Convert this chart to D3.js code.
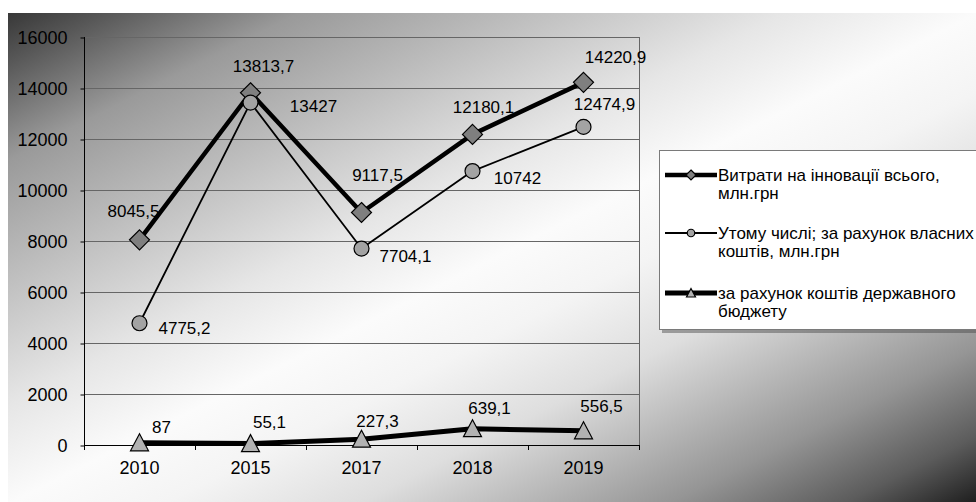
<!DOCTYPE html>
<meta charset="utf-8">
<head>
  <script src="https://d3js.org/d3.v7.min.js"></script>
  <style>
    body { margin: 0; background: #fff; }
    svg { display: block; font-family: "Liberation Sans", Arial, sans-serif; }
  </style>
</head>
<body>
<svg width="976" height="502"></svg>
<script>
// data
var years = ["2010", "2015", "2017", "2018", "2019"];
var totalSpend = [8045.5, 13813.7, 9117.5, 12180.1, 14220.9];
var ownFunds = [4775.2, 13427, 7704.1, 10742, 12474.9];
var stateBudget = [87, 55.1, 227.3, 639.1, 556.5];
var yTicks = [0, 2000, 4000, 6000, 8000, 10000, 12000, 14000, 16000];
var seriesNames = [
  ["Витрати на інновації всього,", "млн.грн"],
  ["Утому числі; за рахунок власних", "коштів, млн.грн"],
  ["за рахунок коштів державного", "бюджету"]
];

// label nudges (layout only)
var labelNudge = [
  [[-6, -29], [13, -27], [16, -38], [11, -28], [32, -25]],
  [[45, 5], [63, 3], [44, 7], [45, 7], [21, -23]],
  [[22, -16], [19, -22], [16, -18], [17, -21], [18, -25]]
];

var svg = d3.select("svg");
var defs = svg.append("defs");
var grad = defs.append("linearGradient").attr("id", "bg")
  .attr("x1", 0).attr("y1", 0).attr("x2", 1).attr("y2", 1);
[[0, "#383838"], [0.05, "#575757"], [0.15, "#9a9a9a"], [0.25, "#b8b8b8"],
 [0.4, "#e6e6e6"], [0.5, "#fbfbfb"], [0.58, "#f4f4f4"], [0.68, "#dedede"],
 [0.84, "#959595"], [0.93, "#5c5c5c"], [1, "#1c1c1c"]].forEach(function(s) {
  grad.append("stop").attr("offset", s[0]).attr("stop-color", s[1]);
});

svg.append("rect").attr("x", 8).attr("y", 13).attr("width", 970).attr("height", 491)
  .attr("fill", "url(#bg)");

var margin = {left: 84, right: 639, top: 37, bottom: 445};
var x = d3.scaleBand().domain(years).range([margin.left, margin.right]).padding(0);
var y = d3.scaleLinear().domain([0, 16000]).range([margin.bottom, margin.top]);
var cx = function(d, i) { return x(years[i]) + x.bandwidth() / 2; };

// gridlines
svg.append("g").selectAll("line").data(yTicks.slice(1)).enter().append("line")
  .attr("x1", margin.left).attr("x2", margin.right)
  .attr("y1", function(d) { return y(d) + 0.5; }).attr("y2", function(d) { return y(d) + 0.5; })
  .attr("stroke", "#666").attr("stroke-width", 1);
svg.append("line").attr("x1", margin.right + 0.5).attr("x2", margin.right + 0.5)
  .attr("y1", margin.top).attr("y2", margin.bottom).attr("stroke", "#666");

// axes
var yAxis = svg.append("g").attr("transform", "translate(" + (margin.left + 0.5) + ",0.5)")
  .call(d3.axisLeft(y).tickValues(yTicks).tickSize(4).tickPadding(13).tickFormat(d3.format("d")));
var xAxis = svg.append("g").attr("transform", "translate(0," + (margin.bottom + 0.5) + ")")
  .call(d3.axisBottom(x).tickSize(0).tickPadding(16));
svg.append("g").selectAll("line").data(years.concat(["end"])).enter().append("line")
  .attr("x1", function(d, i) { return Math.round(margin.left + i * x.bandwidth()) + 0.5; })
  .attr("x2", function(d, i) { return Math.round(margin.left + i * x.bandwidth()) + 0.5; })
  .attr("y1", margin.bottom).attr("y2", margin.bottom + 5).attr("stroke", "#000");
[yAxis, xAxis].forEach(function(a) {
  a.select(".domain").attr("stroke", "#000");
  a.selectAll(".tick line").attr("stroke", "#000");
  a.selectAll("text").attr("font-size", 18).attr("fill", "#000")
    .attr("font-family", "'Liberation Sans', Arial, sans-serif");
});
yAxis.select(".domain").attr("d", "M0," + (margin.top - 0.5) + "V" + (margin.bottom - 0.5));
xAxis.select(".domain").attr("d", "M" + margin.left + ",0H" + margin.right);

// series
var series = [
  {values: totalSpend, width: 4.5, marker: "diamond", fill: "#7f7f7f"},
  {values: ownFunds, width: 1.8, marker: "circle", fill: "#a3a3a3"},
  {values: stateBudget, width: 5, marker: "triangle", fill: "#b2b2b2"}
];
var fmt = function(v) { return String(v).replace(".", ","); };

function drawMarker(g, type, fill) {
  if (type === "diamond") {
    g.append("path").attr("d", "M0,-10L10,0L0,10L-10,0Z");
  } else if (type === "circle") {
    g.append("circle").attr("r", 7.5);
  } else {
    g.append("path").attr("d", "M0,-9L9,8L-9,8Z");
  }
  g.selectAll("*").attr("fill", fill).attr("stroke", "#000").attr("stroke-width", 1.2);
}

var line = d3.line().x(cx).y(function(d) { return y(d); });

series.forEach(function(s) {
  svg.append("path").datum(s.values).attr("d", line)
    .attr("fill", "none").attr("stroke", "#000").attr("stroke-width", s.width)
    .attr("stroke-linejoin", "round");
});
series.forEach(function(s) {
  s.values.forEach(function(v, i) {
    var g = svg.append("g").attr("transform", "translate(" + cx(v, i) + "," + y(v) + ")");
    drawMarker(g, s.marker, s.fill);
  });
});
series.forEach(function(s, k) {
  svg.append("g").selectAll("text").data(s.values).enter().append("text")
    .attr("x", function(d, i) { return cx(d, i) + labelNudge[k][i][0]; })
    .attr("y", function(d, i) { return y(d) + labelNudge[k][i][1]; })
    .attr("dy", "0.36em").attr("text-anchor", "middle")
    .attr("font-size", 17).attr("fill", "#000")
    .text(fmt);
});

// legend
var lg = svg.append("g");
lg.append("rect").attr("x", 662).attr("y", 153).attr("width", 330).attr("height", 180)
  .attr("fill", "#444").attr("opacity", 0.45);
lg.append("rect").attr("x", 659.5).attr("y", 150.5).attr("width", 330).attr("height", 179)
  .attr("fill", "#ffffff").attr("stroke", "#7a7a7a");
var legendRows = [175, 233, 293];
series.forEach(function(s, k) {
  var ly = legendRows[k];
  lg.append("line").attr("x1", 665).attr("x2", 717).attr("y1", ly).attr("y2", ly)
    .attr("stroke", "#000").attr("stroke-width", s.width);
  var m = lg.append("g").attr("transform", "translate(691," + ly + ") scale(0.5)");
  drawMarker(m, s.marker, s.fill);
  m.selectAll("*").attr("stroke-width", 2.4);
  seriesNames[k].forEach(function(t, j) {
    lg.append("text").attr("x", 718).attr("y", ly + j * 18).attr("dy", "0.36em")
      .attr("font-size", 17).attr("fill", "#000").text(t);
  });
});
</script>
</body>
